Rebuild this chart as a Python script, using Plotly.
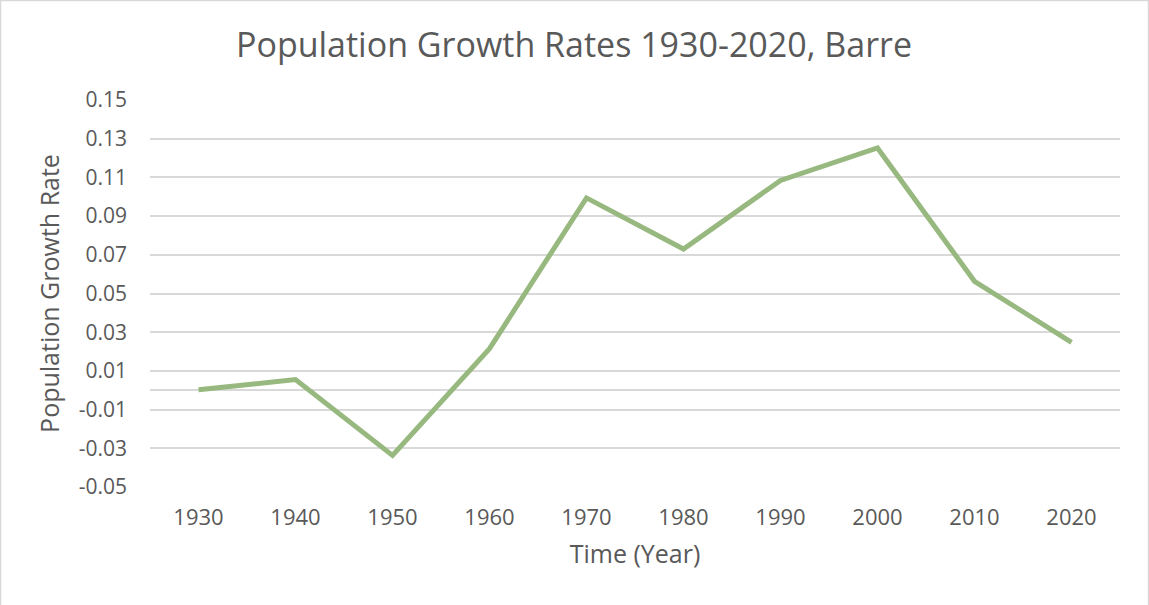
import plotly.graph_objects as go

# Decennial population growth rates for Barre
years = ["1930", "1940", "1950", "1960", "1970", "1980", "1990", "2000", "2010", "2020"]
growth_rate = [0.0003, 0.0055, -0.0337, 0.0215, 0.0994, 0.0730, 0.1084, 0.1252, 0.0563, 0.0248]

y_tick_vals = [-0.05, -0.03, -0.01, 0.01, 0.03, 0.05, 0.07, 0.09, 0.11, 0.13, 0.15]
y_tick_text = ["-0.05", "-0.03", "-0.01", "0.01", "0.03", "0.05", "0.07", "0.09", "0.11", "0.13", "0.15"]

W, H = 1149, 605
ML, MR, MT, MB = 150, 29, 100, 118

text_color = "#595959"
grid_color = "#D9D9D9"
line_color = "#97B87E"
font_family = "Open Sans, Liberation Sans, Arial, sans-serif"

fig = go.Figure()
fig.add_trace(go.Scatter(
    x=years,
    y=growth_rate,
    mode="lines",
    line=dict(color=line_color, width=5),
    hoverinfo="x+y",
))

pw = W - ML - MR
ph = H - MT - MB

fig.update_layout(
    width=W,
    height=H,
    margin=dict(l=ML, r=MR, t=MT, b=MB),
    paper_bgcolor="white",
    plot_bgcolor="white",
    showlegend=False,
    font=dict(family=font_family, color=text_color),
    title=dict(
        text="Population Growth Rates 1930-2020, Barre",
        x=(574 - ML) / pw, xref="paper", xanchor="center",
        y=1 - 45 / H, yref="container", yanchor="middle",
        font=dict(size=34, color=text_color, family=font_family),
    ),
    xaxis=dict(
        type="category",
        range=[-0.5, len(years) - 0.5],
        showgrid=False,
        showline=False,
        zeroline=False,
        ticks="",
        tickfont=dict(size=22, color=text_color),
        ticklabelstandoff=15,
        title=dict(text="Time (Year)", font=dict(size=25, color=text_color), standoff=15),
        fixedrange=True,
    ),
    yaxis=dict(
        range=[-0.05, 0.15],
        tickvals=y_tick_vals,
        ticktext=y_tick_text,
        showgrid=True,
        gridcolor=grid_color,
        gridwidth=1.5,
        zeroline=True,
        zerolinecolor=grid_color,
        zerolinewidth=1.5,
        showline=False,
        ticks="",
        tickfont=dict(size=21, color=text_color),
        ticklabelstandoff=22,
        title=dict(text="Population Growth Rate", font=dict(size=25, color=text_color), standoff=11),
        fixedrange=True,
    ),
)

# Light border around the whole chart area
fig.add_shape(
    type="rect",
    xref="paper", yref="paper",
    x0=(0.5 - ML) / pw, x1=(W - 0.5 - ML) / pw,
    y0=(MB - H + 0.5) / ph, y1=(H - 0.5 - MB) / ph,
    line=dict(color=grid_color, width=1.5),
    fillcolor="rgba(0,0,0,0)",
    layer="below",
)

fig.write_html("out.html")
